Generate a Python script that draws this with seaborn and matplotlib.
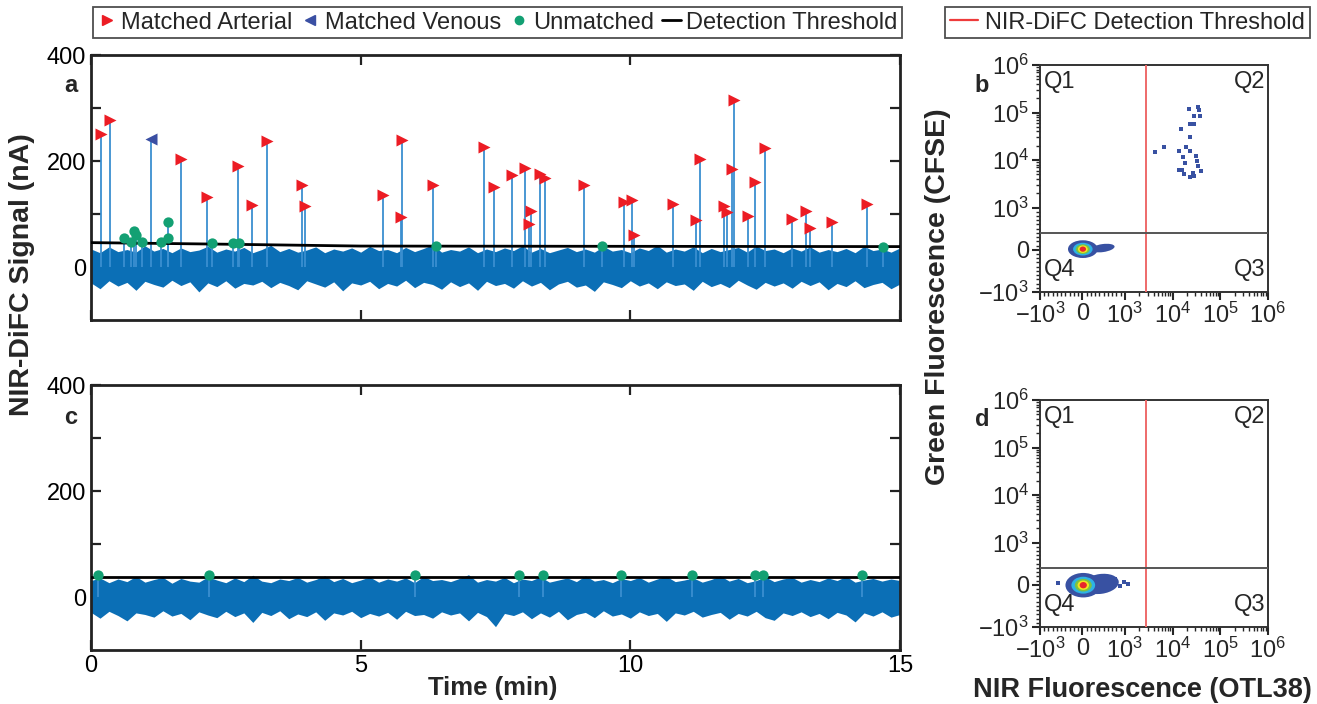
import numpy as np
import matplotlib
matplotlib.use('Agg')
import matplotlib.pyplot as plt
import seaborn as sns
from matplotlib.lines import Line2D
from matplotlib.patches import Ellipse
from matplotlib.ticker import FixedLocator

sns.set_theme(style='ticks')
plt.rcParams['font.family'] = ['Liberation Sans', 'DejaVu Sans']
plt.rcParams['mathtext.fontset'] = 'custom'
plt.rcParams['mathtext.rm'] = 'Liberation Sans'
plt.rcParams['mathtext.it'] = 'Liberation Sans:italic'
plt.rcParams['mathtext.bf'] = 'Liberation Sans:bold'

# ---- panel a: NIR-DiFC trace (time in min, signal in nA) ----
art_t_a = [0.19, 0.35, 1.66, 2.16, 2.72, 2.99, 3.26, 3.92, 3.97, 5.42, 5.76, 5.74,
           6.35, 7.29, 7.48, 7.81, 8.05, 8.13, 8.15, 8.32, 8.42, 9.14, 9.88, 10.04,
           10.06, 10.80, 11.22, 11.30, 11.73, 11.80, 11.89, 11.92, 12.19, 12.31,
           12.50, 13.00, 13.25, 13.34, 13.73, 14.39]
art_v_a = [251, 277, 203, 132, 190, 117, 237, 154, 116, 135, 239, 94,
           154, 227, 151, 173, 187, 82, 105, 175, 168, 154, 122, 127,
           61, 118, 88, 203, 115, 103, 185, 316, 96, 160,
           224, 91, 105, 74, 85, 118]
ven_t_a = [1.11]
ven_v_a = [242]
unm_t_a = [0.62, 0.75, 0.80, 0.84, 0.95, 1.30, 1.42, 1.43, 2.24, 2.64, 2.75, 6.39, 9.48, 14.69]
unm_v_a = [54, 47, 67, 61, 47, 47, 85, 55, 46, 46, 46, 40, 39, 38]
thr_t_a = [0, 2.5, 5, 15]
thr_v_a = [46, 43, 39.5, 38.5]
# noise envelope (max / min of the raw trace in short windows)
noise_up_a = [34, 27, 38, 29, 33, 28, 40, 30, 35, 27,
              36, 29, 32, 39, 28, 34, 30, 37, 27, 33,
              41, 29, 35, 28, 32, 38, 27, 34, 30, 36,
              28, 39, 31, 33, 27, 37, 29, 35, 42, 28,
              33, 30, 38, 27, 34, 29, 36, 31, 40, 28,
              35, 27, 32, 37, 29, 34, 28, 39, 30, 33,
              27, 36, 31, 41, 28, 34, 30, 38, 27, 35,
              29, 33, 37, 28, 40, 31, 34, 27, 36, 30,
              38, 28, 33, 29, 35, 27, 39, 31, 34, 28, 36]
noise_lo_a = [-30, -41, -26, -36, -29, -44, -27, -33, -38, -25,
              -35, -28, -47, -30, -37, -26, -40, -31, -34, -27,
              -39, -29, -35, -43, -26, -32, -38, -28, -45, -30,
              -34, -27, -41, -31, -36, -25, -39, -29, -33, -42,
              -28, -37, -30, -44, -27, -35, -31, -40, -26, -36,
              -29, -43, -32, -27, -38, -34, -46, -28, -33, -39,
              -26, -36, -30, -41, -28, -35, -32, -44, -27, -37,
              -31, -39, -25, -34, -42, -29, -36, -30, -40, -27,
              -35, -28, -43, -31, -37, -26, -39, -33, -29, -41, -32]

# ---- panel c ----
unm_t_c = [0.13, 2.19, 6.01, 7.94, 8.38, 9.83, 11.14, 12.31, 12.46, 14.30]
unm_v_c = [41, 41, 41, 41, 42, 41, 41, 41, 41, 41]
thr_t_c = [0, 15]
thr_v_c = [38, 38]
noise_up_c = [31, 36, 27, 34, 29, 39, 28, 33, 37, 26,
              35, 30, 28, 38, 32, 27, 36, 29, 41, 30,
              27, 34, 31, 37, 28, 33, 40, 29, 35, 27,
              32, 38, 28, 34, 30, 36, 27, 39, 31, 33,
              29, 35, 42, 28, 33, 30, 37, 27, 34, 31,
              38, 28, 32, 36, 29, 40, 30, 33, 27, 35,
              31, 37, 28, 34, 39, 29, 32, 36, 28, 33,
              40, 30, 35, 27, 31, 38, 29, 34, 37, 28,
              33, 29, 36, 31, 39, 28, 32, 35, 30, 34, 31]
noise_lo_c = [-29, -40, -27, -35, -45, -30, -33, -38, -26, -36,
              -31, -43, -28, -34, -39, -27, -37, -30, -48, -29,
              -35, -26, -41, -32, -37, -28, -44, -30, -34, -27,
              -39, -31, -36, -29, -42, -27, -35, -33, -40, -28,
              -34, -30, -45, -29, -37, -56, -31, -35, -28, -41,
              -30, -38, -27, -43, -33, -29, -39, -26, -36, -32,
              -40, -28, -35, -31, -46, -30, -34, -27, -38, -33,
              -29, -42, -31, -36, -27, -39, -44, -30, -35, -28,
              -37, -31, -41, -29, -34, -47, -30, -36, -28, -38, -33]

# ---- panels b / d: flow cytometry ----
q2_nir = [22400, 33700, 35900, 28600, 38300, 23300, 28600, 15100, 23300, 6640,
          4300, 19200, 13500, 23300, 31000, 16800, 18300, 32100, 33800, 39000,
          13900, 15800, 17700, 26500, 23300, 27800]
q2_green = [119000, 133000, 113000, 86000, 86000, 56600, 58200, 44400, 30100, 18800,
            14600, 18500, 15500, 15500, 12000, 11400, 8800, 9550, 7600, 5900,
            6200, 6200, 5200, 5300, 4460, 4680]
gate_nir = 2800
gate_green = 400
# population in Q4: centre, tail and nested density levels (outer -> inner)
blob_b_center = (10, 15)
blob_b_tail = (480, 40, 280, 95)
blob_b_halfw = [350, 230, 165, 115, 75]
blob_b_halfh = [210, 150, 115, 88, 62]
blob_d_center = (20, -10)
blob_d_tail = (430, 20, 430, 235)
blob_d_halfw = [420, 280, 200, 135, 85]
blob_d_halfh = [290, 200, 150, 110, 75]
d_extra_nir = [-580, 760, 880, 980, 1150]
d_extra_green = [45, 130, -40, 70, 20]
density_colors = ['#3851a2', '#2db3e6', '#7cc243', '#f3e51f', '#e8262b']

flow_ticks = [-1e3, 0, 1e3, 1e4, 1e5, 1e6]
flow_labels = [r'$-10^{3}$', '0', r'$10^{3}$', r'$10^{4}$', r'$10^{5}$', r'$10^{6}$']

BAND = '#0b6fb6'
STEM = '#3a8fd0'
RED = '#ec1c24'
VEN = '#3a4fa3'
GRN = '#13a073'

W, H = 1317, 704
fig = plt.figure(figsize=(W / 100, H / 100), dpi=100)
ax_a = fig.add_axes([91 / W, 1 - 320 / H, 809 / W, 265 / H])
ax_c = fig.add_axes([91 / W, 1 - 650 / H, 809 / W, 265 / H])
ax_b = fig.add_axes([1040 / W, 1 - 292 / H, 228 / W, 227 / H])
ax_d = fig.add_axes([1040 / W, 1 - 627 / H, 228 / W, 227 / H])


def trace_panel(ax, up, lo, thr_t, thr_v, art_t, art_v, ven_t, ven_v, unm_t, unm_v):
    t_grid = np.linspace(0, 15, len(up))
    ax.fill_between(t_grid, lo, up, color=BAND, lw=0, zorder=1)
    stems_t = art_t + ven_t + unm_t
    stems_v = art_v + ven_v + unm_v
    if stems_t:
        ax.vlines(stems_t, 0, stems_v, color=STEM, lw=1.3, zorder=2)
    sns.lineplot(x=thr_t, y=thr_v, color='black', lw=2, ax=ax, zorder=3)
    if unm_t:
        sns.scatterplot(x=unm_t, y=unm_v, marker='o', s=55, color=GRN, linewidth=0,
                        ax=ax, zorder=4, legend=False)
    if art_t:
        sns.scatterplot(x=art_t, y=art_v, marker='>', s=75, color=RED, linewidth=0,
                        ax=ax, zorder=5, legend=False)
    if ven_t:
        sns.scatterplot(x=ven_t, y=ven_v, marker='<', s=75, color=VEN, linewidth=0,
                        ax=ax, zorder=5, legend=False)
    ax.set_xlim(0, 15)
    ax.set_ylim(-100, 400)
    ax.set_xticks([0, 5, 10, 15])
    ax.set_yticks([0, 200, 400])
    ax.set_yticks([100, 300], minor=True)
    ax.tick_params(which='both', direction='in', top=True, right=True, length=7,
                   width=1.6, labelsize=17, colors='#222222', labelcolor='black')
    for sp in ax.spines.values():
        sp.set_linewidth(2)
        sp.set_color('#222222')
    ax.set_xlabel('')
    ax.set_ylabel('')


trace_panel(ax_a, noise_up_a, noise_lo_a, thr_t_a, thr_v_a, art_t_a, art_v_a,
            ven_t_a, ven_v_a, unm_t_a, unm_v_a)
trace_panel(ax_c, noise_up_c, noise_lo_c, thr_t_c, thr_v_c, [], [], [], [],
            unm_t_c, unm_v_c)
ax_a.tick_params(labelbottom=False)


def flow_panel(ax, center, tail, halfw, halfh, pts_x, pts_y, pts_size):
    ax.set_xscale('symlog', linthresh=1000, linscale=0.8)
    ax.set_yscale('symlog', linthresh=1000, linscale=0.8)
    ax.set_xlim(-1000, 1e6)
    ax.set_ylim(-1000, 1e6)
    tx, ty, tw, th = tail
    ax.add_patch(Ellipse((tx, ty), 2 * tw, 2 * th, angle=8, color=density_colors[0],
                         lw=0, zorder=2))
    for w, h, c in zip(halfw, halfh, density_colors):
        ax.add_patch(Ellipse(center, 2 * w, 2 * h, color=c, lw=0, zorder=3))
    if pts_x:
        sns.scatterplot(x=pts_x, y=pts_y, marker='s', s=pts_size, color=density_colors[0],
                        linewidth=0, ax=ax, zorder=4, legend=False)
    ax.axvline(gate_nir, color='#ee6a6a', lw=1.4, zorder=5)
    ax.axhline(gate_green, color='#555555', lw=1.4, zorder=5)
    minor = [v for v in range(-900, 1000, 100) if v != 0]
    minor += [m * 10 ** e for e in (3, 4, 5) for m in range(2, 10)]
    for axis in (ax.xaxis, ax.yaxis):
        axis.set_major_locator(FixedLocator(flow_ticks))
        axis.set_minor_locator(FixedLocator(minor))
    ax.set_xticklabels(flow_labels)
    ax.set_yticklabels(flow_labels)
    ax.tick_params(which='major', direction='out', length=6, width=1.5, labelsize=17, pad=2)
    ax.tick_params(which='minor', direction='out', length=3, width=1)
    for sp in ax.spines.values():
        sp.set_linewidth(1.4)
        sp.set_color('#333333')
    ax.text(0.015, 0.975, 'Q1', transform=ax.transAxes, ha='left', va='top', fontsize=17)
    ax.text(0.99, 0.975, 'Q2', transform=ax.transAxes, ha='right', va='top', fontsize=17)
    ax.text(0.015, 0.05, 'Q4', transform=ax.transAxes, ha='left', va='bottom', fontsize=17)
    ax.text(0.99, 0.05, 'Q3', transform=ax.transAxes, ha='right', va='bottom', fontsize=17)


flow_panel(ax_b, blob_b_center, blob_b_tail, blob_b_halfw, blob_b_halfh, q2_nir, q2_green, 12)
flow_panel(ax_d, blob_d_center, blob_d_tail, blob_d_halfw, blob_d_halfh,
           d_extra_nir, d_extra_green, 8)

# axis titles and panel letters
fig.text(22 / W, 1 - 275 / H, 'NIR-DiFC Signal (nA)', rotation=90, ha='center', va='center',
         fontsize=20.5, fontweight='bold')
fig.text(493 / W, 1 - 688 / H, 'Time (min)', ha='center', va='center',
         fontsize=18.5, fontweight='bold')
fig.text(938 / W, 1 - 297 / H, 'Green Fluorescence (CFSE)', rotation=90, ha='center',
         va='center', fontsize=20.5, fontweight='bold')
fig.text(1142 / W, 1 - 690 / H, 'NIR Fluorescence (OTL38)', ha='center', va='center',
         fontsize=19.5, fontweight='bold')
for lab, x, y in [('a', 71, 85), ('c', 71, 418), ('b', 982, 85), ('d', 982, 420)]:
    fig.text(x / W, 1 - y / H, lab, ha='center', va='center', fontsize=17, fontweight='bold')

# legends
handles = [Line2D([], [], marker='>', color=RED, ls='', markersize=7),
           Line2D([], [], marker='<', color=VEN, ls='', markersize=7),
           Line2D([], [], marker='o', color=GRN, ls='', markersize=6),
           Line2D([], [], color='black', lw=2)]
labels = ['Matched Arterial', 'Matched Venous', 'Unmatched', 'Detection Threshold']
leg = fig.legend(handles, labels, loc='upper left', bbox_to_anchor=(93 / W, 1 - 7 / H),
                 ncol=4, fontsize=17, frameon=True, fancybox=False, edgecolor='#222222',
                 handlelength=0.8, handletextpad=0.2, columnspacing=0.35, borderpad=0.2,
                 borderaxespad=0)
leg.get_frame().set_linewidth(1.3)
leg2 = fig.legend([Line2D([], [], color='#ee3b3b', lw=1.6)], ['NIR-DiFC Detection Threshold'],
                  loc='upper left', bbox_to_anchor=(945 / W, 1 - 7 / H), fontsize=17,
                  frameon=True, fancybox=False, edgecolor='#222222', handlelength=1.2,
                  handletextpad=0.3, borderpad=0.2, borderaxespad=0)
leg2.get_frame().set_linewidth(1.3)

fig.savefig('out.png', dpi=100)
